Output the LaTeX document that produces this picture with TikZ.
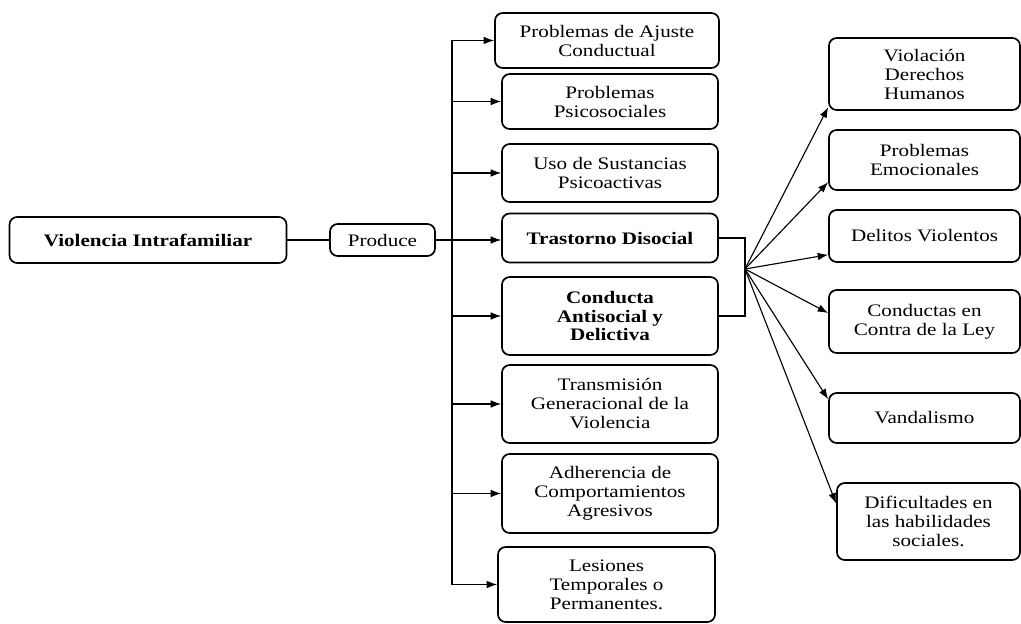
\documentclass[tikz,border=0pt]{standalone}
\usepackage{fontspec}
\setmainfont{Liberation Serif}[FakeStretch=1.2]
\usepackage{tikz}
\usetikzlibrary{arrows.meta, positioning, calc}
\tikzset{
	box/.style      ={rectangle, rounded corners=5.5pt, draw=black, line width=1.2pt, align=center, inner sep=2pt},
	flowarrow/.style={-{Latex[length=2.6mm, width=1.9mm]}, line width=0.8pt},
	link/.style     ={line width=0.8pt},
}

\begin{document}
\begin{tikzpicture}[x=0.025cm, y=-0.025cm, every node/.style={font=\fontsize{12.5}{13.5}\selectfont},
					mid/.style={box, minimum width=5.4cm},
					eff/.style={box, minimum width=4.775cm},
					bold/.style={font=\fontsize{12.5}{13.5}\selectfont\bfseries}]
	\useasboundingbox (0,0) rectangle (1021,624);
	% source and verb
	\node[box, bold, minimum width=6.925cm, minimum height=1.15cm] (vif) at (148,240) {Violencia Intrafamiliar};
	\node[box, minimum width=2.625cm, minimum height=0.8cm] (prod) at (382.5,240) {Produce};
	% consequences
	\node[mid, minimum width=5.6cm, minimum height=1.375cm] (m1) at (607,40.5) {Problemas de Ajuste\\ Conductual};
	\node[mid, minimum height=1.375cm] (m2) at (610,101.5) {Problemas\\ Psicosociales};
	\node[mid, minimum height=1.45cm] (m3) at (610,173) {Uso de Sustancias\\ Psicoactivas};
	\node[mid, bold, minimum height=1.225cm] (m4) at (610,238) {Trastorno Disocial};
	\node[mid, bold, minimum height=1.95cm] (m5) at (610,316) {Conducta\\ Antisocial y\\ Delictiva};
	\node[mid, minimum height=1.95cm] (m6) at (610,404) {Transmisión\\ Generacional de la\\ Violencia};
	\node[mid, minimum height=1.975cm] (m7) at (610,493.5) {Adherencia de\\ Comportamientos\\ Agresivos};
	\node[mid, minimum width=5.425cm, minimum height=1.875cm] (m8) at (606.5,584.5) {Lesiones\\ Temporales o\\ Permanentes.};
	% effects of the antisocial branch
	\node[eff, minimum height=1.8cm] (r1) at (924.5,74) {Violación\\ Derechos\\ Humanos};
	\node[eff, minimum height=1.5cm] (r2) at (924.5,160) {Problemas\\ Emocionales};
	\node[eff, minimum height=1.3cm] (r3) at (924.5,236) {Delitos Violentos};
	\node[eff, minimum height=1.575cm] (r4) at (924.5,321.5) {Conductas en\\ Contra de la Ley};
	\node[eff, minimum height=1.25cm] (r5) at (924.5,418) {Vandalismo};
	\node[eff, minimum width=4.575cm, minimum height=1.925cm] (r6) at (928.5,521.5) {Dificultades en\\ las habilidades\\ sociales.};
	\coordinate (trunk) at (452,240);
	\coordinate (fan) at (745,269);
	% connectors
	\draw[link] (vif) -- (prod);
	\draw[link] (trunk |- m1.west) -- (trunk |- m8.west);
	\draw[flowarrow] (prod.east) -- (prod.east -| m4.west);
	\foreach \m in {m1,m2,m3,m5,m6,m7,m8}
		\draw[flowarrow] (trunk |- \m.west) -- (\m.west);
	\draw[link] (m4.east) -| (fan) |- (m5.east);
	\draw[flowarrow] (fan) -- (r1.199); \draw[flowarrow] (fan) -- (r2.193);
	\draw[flowarrow] (fan) -- (r3.191); \draw[flowarrow] (fan) -- (r4.175);
	\draw[flowarrow] (fan) -- (r5.169); \draw[flowarrow] (fan) -- (r6.169);
\end{tikzpicture}
\end{document}
